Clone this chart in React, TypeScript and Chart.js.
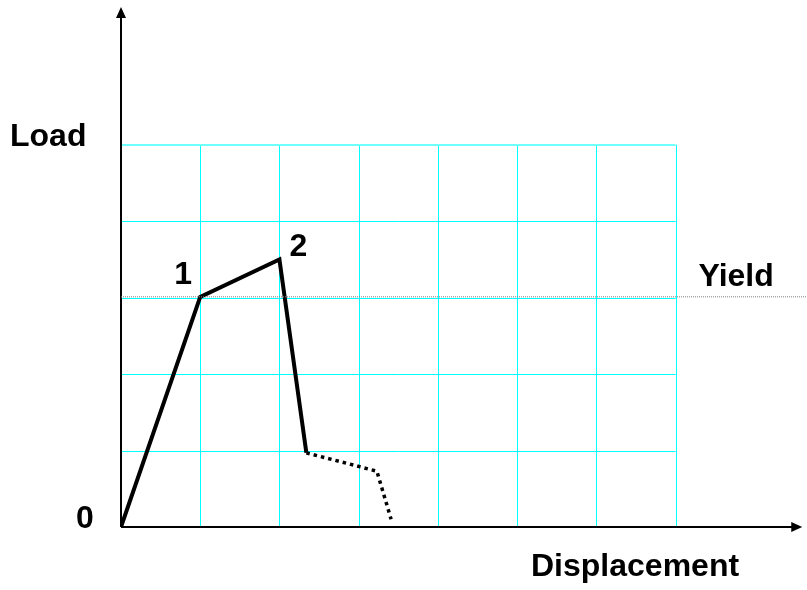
import { useEffect, useRef } from "react";
import { Chart, registerables } from "chart.js";

Chart.register(...registerables);

// ---- data (in grid units) ----
const solidX = [0, 1, 2, 2.34];
const solidY = [0, 3.01, 3.5, 0.97];
const dottedX = [2.34, 3.23, 3.41];
const dottedY = [0.97, 0.73, 0.1];
const yieldLoad = 3.01;
const yieldX = [0, 8.66];
const gridCols = [1, 2, 3, 4, 5, 6, 7];
const gridRows = [1, 2, 3, 4, 5];
const pointLabels = ["0", "1", "2"];
const xAxisTitle = "Displacement";
const yAxisTitle = "Load";
const yieldLabel = "Yield";

const X_MAX = 8.66;
const Y_MAX = 6.8;
const AXIS_X_END = 8.6;
const FONT = "bold 32px 'Liberation Sans', Arial, sans-serif";

const sketchPlugin = {
  id: "sketch",
  beforeDatasetsDraw(chart: any) {
    const ctx = chart.ctx;
    const xs = chart.scales.x;
    const ys = chart.scales.y;
    const x0 = xs.getPixelForValue(0);
    const y0 = ys.getPixelForValue(0);
    const gx = xs.getPixelForValue(gridCols[gridCols.length - 1]);
    const gy = ys.getPixelForValue(gridRows[gridRows.length - 1]);
    ctx.save();
    ctx.strokeStyle = "#00FFFF";
    ctx.lineWidth = 1;
    for (const c of gridCols) {
      const px = Math.round(xs.getPixelForValue(c)) + 0.5;
      ctx.beginPath();
      ctx.moveTo(px, gy);
      ctx.lineTo(px, y0);
      ctx.stroke();
    }
    for (const r of gridRows) {
      const top = r === gridRows[gridRows.length - 1];
      const py = Math.round(ys.getPixelForValue(r)) + (top ? 0 : 0.5);
      ctx.lineWidth = top ? 2 : 1;
      ctx.strokeStyle = top ? "#70FFFF" : "#00FFFF";
      ctx.beginPath();
      ctx.moveTo(x0, py);
      ctx.lineTo(gx, py);
      ctx.stroke();
    }
    // axes
    ctx.strokeStyle = "#000";
    ctx.fillStyle = "#000";
    ctx.lineWidth = 2;
    const xEnd = xs.getPixelForValue(AXIS_X_END);
    const yEnd = ys.getPixelForValue(Y_MAX);
    ctx.beginPath();
    ctx.moveTo(x0, y0);
    ctx.lineTo(xEnd - 8, y0);
    ctx.moveTo(x0, y0);
    ctx.lineTo(x0, yEnd + 8);
    ctx.stroke();
    ctx.beginPath();
    ctx.moveTo(xEnd, y0);
    ctx.lineTo(xEnd - 11, y0 - 5);
    ctx.lineTo(xEnd - 11, y0 + 5);
    ctx.closePath();
    ctx.fill();
    ctx.beginPath();
    ctx.moveTo(x0, yEnd);
    ctx.lineTo(x0 - 5, yEnd + 11);
    ctx.lineTo(x0 + 5, yEnd + 11);
    ctx.closePath();
    ctx.fill();
    ctx.restore();
  },
  afterDatasetsDraw(chart: any) {
    const ctx = chart.ctx;
    const xs = chart.scales.x;
    const ys = chart.scales.y;
    ctx.save();
    ctx.fillStyle = "#000";
    ctx.font = FONT;
    ctx.textBaseline = "alphabetic";
    ctx.textAlign = "left";
    const x0 = xs.getPixelForValue(0);
    const y0 = ys.getPixelForValue(0);
    ctx.fillText(yAxisTitle, x0 - 111, ys.getPixelForValue(gridRows[gridRows.length - 1]) + 1);
    ctx.fillText(pointLabels[0], x0 - 45, y0 + 1);
    ctx.fillText(pointLabels[1], xs.getPixelForValue(solidX[1]) - 26, ys.getPixelForValue(solidY[1]) - 13);
    ctx.fillText(pointLabels[2], xs.getPixelForValue(solidX[2]) + 10, ys.getPixelForValue(solidY[2]) - 3);
    ctx.fillText(yieldLabel, xs.getPixelForValue(gridCols[gridCols.length - 1]) + 23, ys.getPixelForValue(yieldLoad) - 11);
    ctx.fillText(xAxisTitle, 531, y0 + 49);
    ctx.restore();
  },
};

export default function App() {
  const ref = useRef<HTMLCanvasElement | null>(null);
  useEffect(() => {
    document.body.style.margin = "0";
    if (!ref.current) return;
    const chart = new Chart(ref.current, {
      type: "scatter",
      data: {
        datasets: [
          {
            label: "Yield",
            data: yieldX.map((x) => ({ x, y: yieldLoad })),
            showLine: true,
            borderColor: "#7f7f7f",
            borderWidth: 1,
            borderDash: [1, 1],
            pointRadius: 0,
            clip: false as any,
          },
          {
            label: "Load path",
            data: solidX.map((x, i) => ({ x, y: solidY[i] })),
            showLine: true,
            borderColor: "#000",
            borderWidth: 4,
            pointRadius: 0,
            borderJoinStyle: "miter",
          },
          {
            label: "Post-peak",
            data: dottedX.map((x, i) => ({ x, y: dottedY[i] })),
            showLine: true,
            borderColor: "#000",
            borderWidth: 3.5,
            borderDash: [3.5, 4],
            borderCapStyle: "butt",
            pointRadius: 0,
          },
        ],
      },
      options: {
        responsive: false,
        animation: false,
        layout: { padding: { left: 121, right: 0, top: 7, bottom: 63 } },
        plugins: {
          legend: { display: false },
          tooltip: { enabled: false },
        },
        scales: {
          x: { type: "linear", min: 0, max: X_MAX, display: false },
          y: { type: "linear", min: 0, max: Y_MAX, display: false },
        },
      },
      plugins: [sketchPlugin],
    });
    return () => chart.destroy();
  }, []);
  return (
    <div style={{ width: 807, height: 590, background: "#fff" }}>
      <canvas ref={ref} width={807} height={590} />
    </div>
  );
}
